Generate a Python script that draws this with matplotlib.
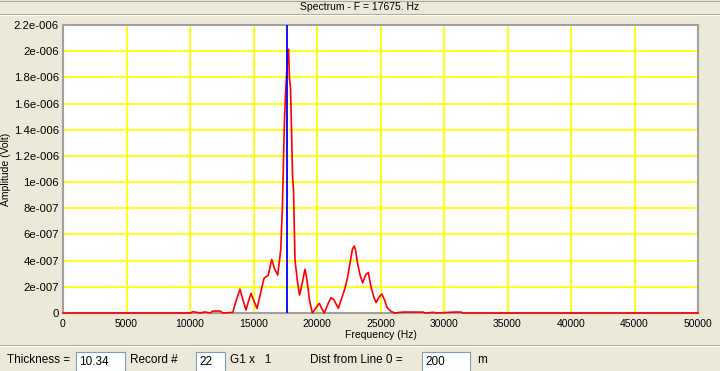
import matplotlib.pyplot as plt
from matplotlib.patches import Rectangle
from matplotlib.lines import Line2D
from matplotlib.ticker import FuncFormatter, MultipleLocator

# spectre (Hz, amplitude en 1e-7 V)
freq_hz = [0, 10000, 10236, 10787, 11181, 11575, 11811, 12362, 12598, 13362,
           13622, 13937, 14173, 14409, 14606, 14803, 15039, 15276, 15433, 15646,
           15827, 16165, 16433, 16654, 16905, 17142, 17268, 17346, 17425, 17520,
           17598, 17677, 17756, 17835, 17913, 17992, 18071, 18150, 18268, 18449,
           18622, 18819, 19055, 19213, 19409, 19630, 19921, 20181, 20394, 20575,
           20866, 21102, 21339, 21677, 21969, 22205, 22402, 22598, 22795, 22937,
           23055, 23173, 23386, 23598, 23819, 24039, 24252, 24449, 24646, 24882,
           25095, 25315, 25512, 25858, 26142, 26772, 28346, 28500, 29213, 29370,
           30866, 31338, 31500, 50000]
amp_e7 = [0, 0, 0.1, 0, 0.08, 0, 0.15, 0.15, 0, 0.05,
          0.9, 1.81, 1.0, 0.23, 0.9, 1.5, 0.9, 0.35, 1.0, 1.9,
          2.65, 2.9, 4.1, 3.4, 2.9, 4.8, 7.9, 10.9, 14.3, 16.7,
          18.05, 19.45, 20.15, 17.9, 17.2, 14.2, 10.5, 9.4, 4.05, 2.5,
          1.37, 2.2, 3.34, 2.5, 1.0, 0.0, 0.4, 0.74, 0.3, 0.0,
          0.7, 1.17, 1.0, 0.36, 1.2, 1.9, 2.7, 3.8, 4.9, 5.12,
          4.7, 3.9, 2.9, 2.3, 2.9, 3.1, 2.0, 1.3, 0.79, 1.2,
          1.45, 1.0, 0.43, 0.1, 0.0, 0.07, 0.07, 0, 0.05, 0,
          0.07, 0.07, 0, 0]
amp_volt = [a * 1e-7 for a in amp_e7]
f_marqueur = 17675

titre = "Spectrum - F = 17675. Hz"
W, H = 720, 371
fond = "#ECE9D8"
police = "Liberation Sans"
plt.rcParams['font.family'] = [police, 'DejaVu Sans']


def px(x, y):
    """Convertit des pixels (origine en haut à gauche) en coordonnées figure."""
    return x / W, 1 - y / H


def format_amp(v, pos):
    if abs(v) < 1e-12:
        return "0"
    mant, exp = f"{v:.1e}".split("e")
    mant = mant.rstrip("0").rstrip(".")
    return f"{mant}e{int(exp):+04d}"


fig = plt.figure(figsize=(7.2, 3.71), dpi=100, facecolor=fond)
ax = fig.add_axes([63 / W, (H - 313) / H, 635 / W, 288 / H])
ax.set_facecolor("white")

ax.plot(freq_hz, amp_volt, color="#FF0000", lw=1.2, clip_on=False, zorder=3)
ax.axvline(f_marqueur, color="#0000FF", lw=1.3, zorder=4)

ax.set_xlim(0, 50000)
ax.set_ylim(0, 2.2e-6)
ax.xaxis.set_major_locator(MultipleLocator(5000))
ax.yaxis.set_major_locator(MultipleLocator(2e-7))
ax.yaxis.set_major_formatter(FuncFormatter(format_amp))
ax.grid(True, color="#FFFF00", lw=1.3)
ax.set_axisbelow(True)
ax.tick_params(length=0, labelsize=7.5, pad=4)
ax.tick_params(axis="y", labelsize=8.2, pad=3)
for s in ax.spines.values():
    s.set_color("#A0A0A0")
    s.set_linewidth(1.5)
ax.set_xlabel("Frequency (Hz)", fontsize=7.5, labelpad=1)
ax.set_ylabel("Amplitude (Volt)", fontsize=7.5, labelpad=2)

# bandeau de titre
fig.text(*px(360, 7), titre, fontsize=7.5, ha="center", va="center")
for y, c in [(0.5, "#ACA899"), (13.5, "#ACA899"), (14.5, "white")]:
    fig.add_artist(Line2D([0, 1], [1 - y / H] * 2, color=c, lw=0.8))

# panneau du bas
for y, c in [(344.5, "#ACA899"), (345.5, "white")]:
    fig.add_artist(Line2D([0, 1], [1 - y / H] * 2, color=c, lw=0.8))

champs = [(76, 125, "10.34"), (196, 225, "22"), (422, 470, "200")]
for x0, x1, txt in champs:
    fig.patches.append(Rectangle(px(x0, 371), (x1 - x0) / W, 19 / H,
                                 transform=fig.transFigure, facecolor="white",
                                 edgecolor="#7F9DB9", lw=0.8))
    fig.text(*px(x0 + 3, 362), txt, fontsize=8.5, va="center")

etiquettes = [(7, "Thickness ="), (130, "Record #"), (230, "G1 x   1"),
              (310, "Dist from Line 0 ="), (477, "m")]
for x, txt in etiquettes:
    fig.text(*px(x, 360), txt, fontsize=8.5, va="center")

fig.savefig("out.png", dpi=100, facecolor=fond)
